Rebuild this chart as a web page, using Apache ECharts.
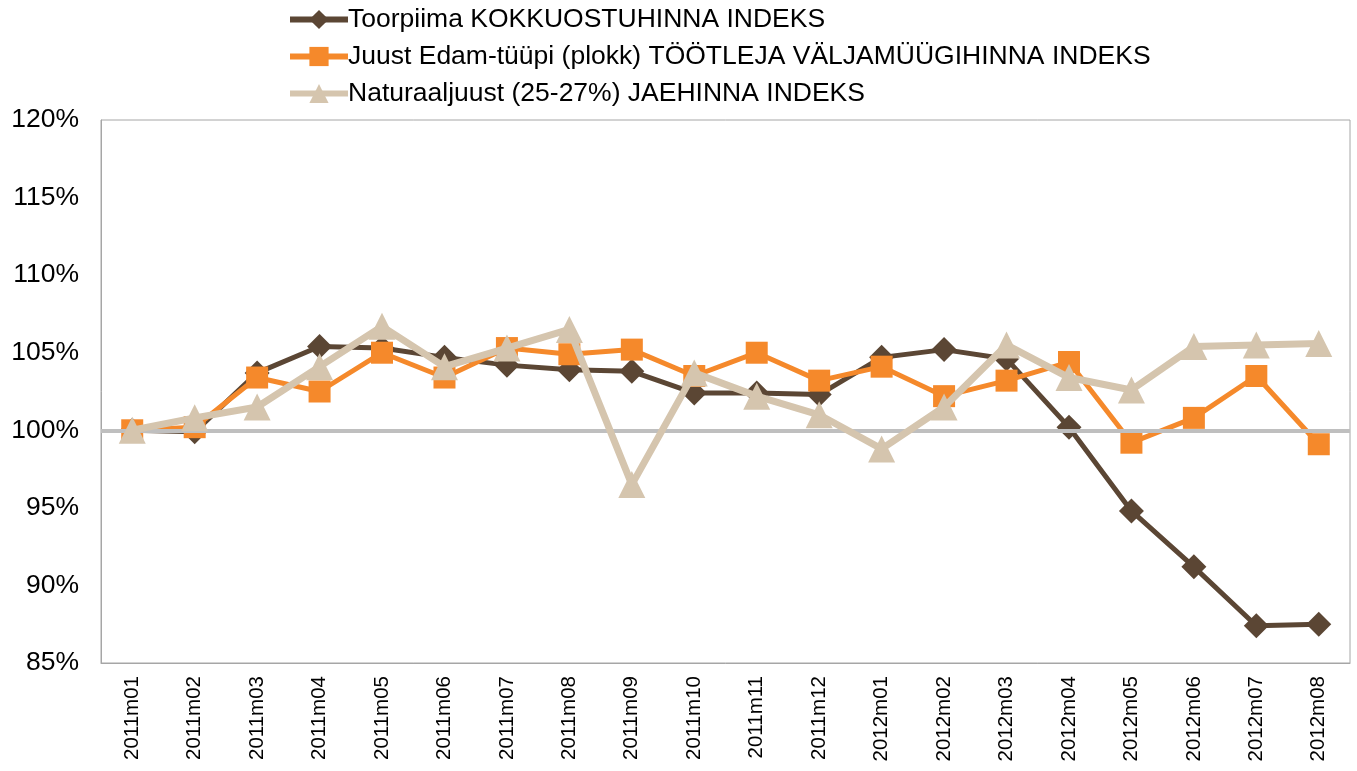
<!DOCTYPE html>
<html><head><meta charset="utf-8">
<script src="https://cdn.jsdelivr.net/npm/echarts@6/dist/echarts.min.js"></script>
<style>html,body{margin:0;padding:0;background:#fff}#c{width:1357px;height:771px}</style>
</head><body><div id="c"></div>
<script>
var categories = ['2011m01','2011m02','2011m03','2011m04','2011m05','2011m06','2011m07','2011m08','2011m09','2011m10','2011m11','2011m12','2012m01','2012m02','2012m03','2012m04','2012m05','2012m06','2012m07','2012m08'];
var toorpiima = [100.0, 99.9, 103.7, 105.4, 105.3, 104.7, 104.2, 103.9, 103.8, 102.4, 102.4, 102.3, 104.7, 105.2, 104.6, 100.2, 94.8, 91.2, 87.4, 87.5];
var juust = [100.0, 100.2, 103.4, 102.5, 105.0, 103.4, 105.3, 104.9, 105.2, 103.5, 105.0, 103.2, 104.1, 102.2, 103.2, 104.4, 99.2, 100.8, 103.5, 99.1];
var naturaal = [100.0, 100.8, 101.5, 104.1, 106.7, 104.1, 105.3, 106.5, 96.5, 103.7, 102.2, 101.0, 98.8, 101.5, 105.5, 103.4, 102.6, 105.4, 105.5, 105.6];
var names = ['Toorpiima KOKKUOSTUHINNA INDEKS','Juust Edam-tüüpi (plokk) TÖÖTLEJA VÄLJAMÜÜGIHINNA INDEKS','Naturaaljuust (25-27%) JAEHINNA INDEKS'];

var chart = echarts.init(document.getElementById('c'));
var font = 'Liberation Sans, Arial, sans-serif';
chart.setOption({
  animation: false,
  textStyle: {fontFamily: font},
  legend: {
    orient: 'vertical', left: 282, top: 1, itemGap: 10, itemWidth: 58, itemHeight: 24,
    data: names,
    lineStyle: {width: 6},
    textStyle: {fontSize: 26.5, lineHeight: 27, color: '#000', fontFamily: font, padding: [0,0,0,-5]}
  },
  grid: {left: 101, right: 7, top: 120, bottom: 108, show: true, borderColor: '#A6A6A6', borderWidth: 1},
  xAxis: {
    type: 'category', data: categories, boundaryGap: true,
    axisLine: {lineStyle: {color: '#A6A6A6'}},
    axisTick: {show: false},
    axisLabel: {rotate: 90, fontSize: 20.5, color: '#000', margin: 13, fontFamily: font}
  },
  yAxis: {
    type: 'value', min: 85, max: 120, interval: 5,
    axisLine: {show: true, lineStyle: {color: '#A6A6A6'}},
    axisTick: {show: false},
    splitLine: {show: false},
    axisLabel: {fontSize: 26.5, color: '#000', margin: 22, fontFamily: font, formatter: function(v){return v + '%';}}
  },
  series: [
    {name: 'ref', type: 'line', data: [], z: 1, silent: true,
     markLine: {silent: true, symbol: 'none', label: {show: false}, lineStyle: {color: '#BFBFBF', width: 4, type: 'solid'}, data: [{yAxis: 100}]}},
    {name: names[0], type: 'line', data: toorpiima, symbol: 'diamond', symbolSize: 25,
     lineStyle: {color: '#5B4634', width: 5}, itemStyle: {color: '#5B4634'}, z: 3},
    {name: names[1], type: 'line', data: juust, symbol: 'rect', symbolSize: 22,
     lineStyle: {color: '#F5892B', width: 5}, itemStyle: {color: '#F5892B'}, z: 4},
    {name: names[2], type: 'line', data: naturaal, symbol: 'triangle', symbolSize: 27,
     lineStyle: {color: '#D5C5AE', width: 7}, itemStyle: {color: '#D5C5AE'}, z: 5}
  ]
});
</script></body></html>
